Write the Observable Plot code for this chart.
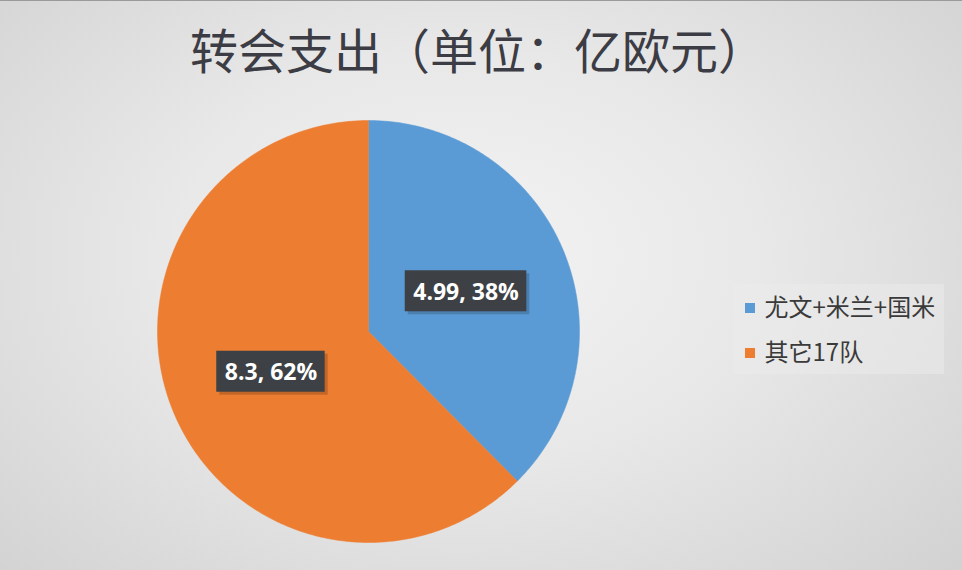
<!DOCTYPE html>
<html>
<head>
<meta charset="utf-8">
<script src="https://cdn.jsdelivr.net/npm/d3@7"></script>
<script src="https://cdn.jsdelivr.net/npm/@observablehq/plot@0.6"></script>
<style>
  html, body { margin: 0; padding: 0; }
  body { width: 962px; height: 570px; overflow: hidden; }
  #chart {
    position: relative; width: 962px; height: 570px;
    background: radial-gradient(ellipse 70% 80% at 48% 45%, #f3f3f3 0%, #e8e8e8 45%, #d2d2d2 100%);
    border-top: 1px solid #9a9a9a; box-sizing: border-box;
  }
  #title {
    position: absolute; left: 0; width: 956px; top: 16px; text-align: center;
    font-family: "Noto Sans CJK SC", sans-serif; font-size: 48px; color: #3c3c44;
    letter-spacing: 0px; line-height: 62px;
  }
  #chart svg { position: absolute; left: 0; top: 0; background: transparent; }
</style>
</head>
<body>
<div id="chart"><div id="title">转会支出（单位：亿欧元）</div></div>
<script>
const categories = ["尤文+米兰+国米", "其它17队"];
const values = [4.99, 8.3];
const percentLabels = ["38%", "62%"];
const colors = ["#5B9BD5", "#ED7D31"];

const W = 962, H = 570;
const cx = 368, cy = 330, R = 211;

const pie = d3.pie().sort(null).value(d => d.value);
const arcs = pie(categories.map((c, i) => ({category: c, value: values[i], i})));

// polygon outline for each slice (angles from data via d3.pie)
function slicePoints(a) {
  const pts = [{x: cx, y: cy}];
  const n = Math.max(2, Math.ceil((a.endAngle - a.startAngle) / 0.01));
  for (let k = 0; k <= n; k++) {
    const t = a.startAngle + (a.endAngle - a.startAngle) * k / n;
    pts.push({x: cx + R * Math.sin(t), y: cy - R * Math.cos(t)});
  }
  pts.push({x: cx, y: cy});
  return pts;
}

const labels = arcs.map((a, i) => {
  const m = (a.startAngle + a.endAngle) / 2;
  return {
    x: cx + 0.5 * R * Math.sin(m),
    y: cy - 0.5 * R * Math.cos(m),
    text: `${values[i]}, ${percentLabels[i]}`
  };
});

const canvas = document.createElement("canvas");
const ctx = canvas.getContext("2d");
const labelFont = "bold 23px 'Open Sans', sans-serif";
ctx.font = labelFont;
labels.forEach(l => { l.w = ctx.measureText(l.text).width + 16; l.h = 41; });

const legendItems = categories.map((c, i) => ({category: c, color: colors[i], x: 750, y: 307 + 45 * i}));

const marks = [];
arcs.forEach((a, i) => {
  marks.push(Plot.line(slicePoints(a), {x: "x", y: "y", fill: colors[i], stroke: colors[i], strokeWidth: 0.5}));
});
// label shadows
marks.push(Plot.rect(labels, {x1: d => d.x - d.w/2 + 3, x2: d => d.x + d.w/2 + 3, y1: d => d.y - d.h/2 + 3, y2: d => d.y + d.h/2 + 3, fill: "#000", fillOpacity: 0.18}));
marks.push(Plot.rect(labels, {x1: d => d.x - d.w/2, x2: d => d.x + d.w/2, y1: d => d.y - d.h/2, y2: d => d.y + d.h/2, fill: "#3d4145"}));
marks.push(Plot.text(labels, {x: "x", y: "y", text: "text", fill: "white", fontSize: 23, fontWeight: "bold", fontFamily: "'Open Sans', sans-serif", dy: 1}));
// legend
marks.push(Plot.rect([0], {x1: 733, x2: 944, y1: 283, y2: 373, fill: "#ececec", fillOpacity: 0.5}));
marks.push(Plot.rect(legendItems, {x1: d => d.x - 5, x2: d => d.x + 5, y1: d => d.y - 5, y2: d => d.y + 5, fill: "color"}));
marks.push(Plot.text(legendItems, {x: d => d.x + 14, y: "y", text: "category", textAnchor: "start", fill: "#3a3a3a", fontSize: 24, fontFamily: "'Noto Sans CJK SC', sans-serif"}));

const svg = Plot.plot({
  width: W, height: H,
  margin: 0,
  x: {type: "identity", axis: null},
  y: {type: "identity", axis: null},
  style: {background: "transparent", overflow: "visible"},
  marks
});
document.getElementById("chart").appendChild(svg);
</script>
</body>
</html>
